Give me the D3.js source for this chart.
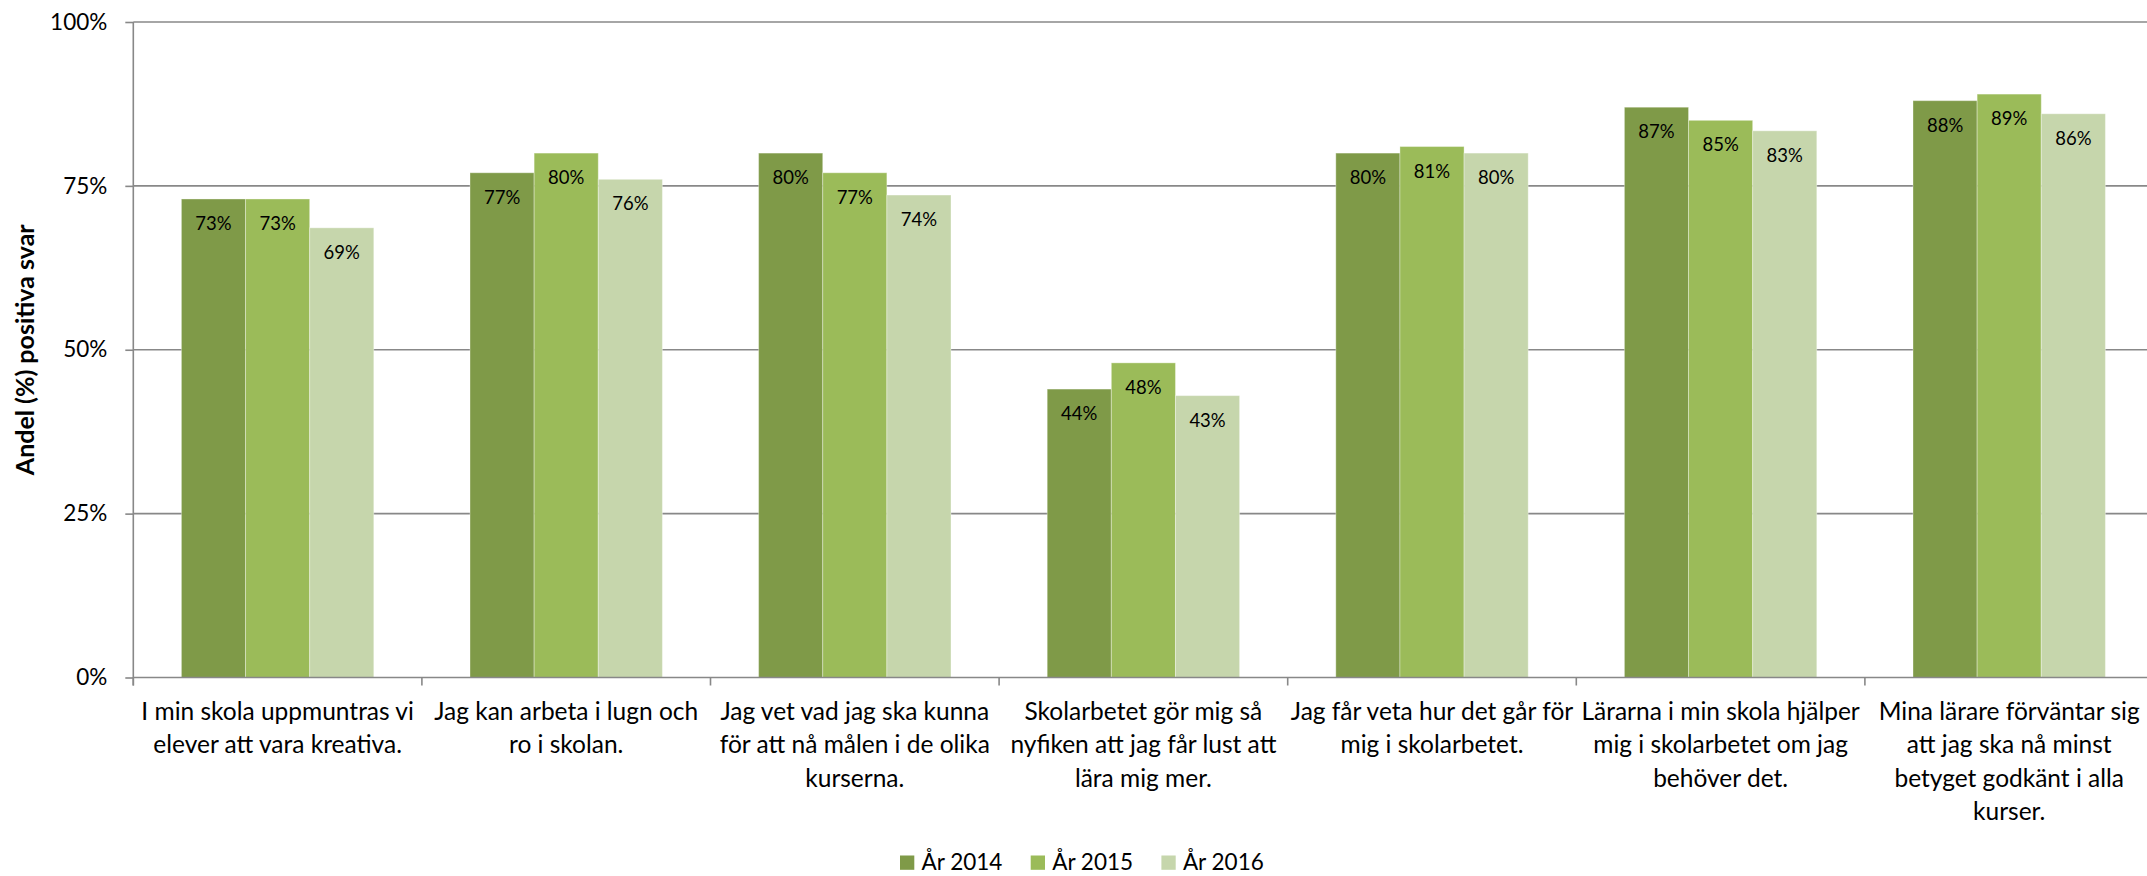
<!DOCTYPE html>
<head>
  <title>andel positiva svar per ar</title>
  <script src="https://cdn.jsdelivr.net/npm/d3@7/dist/d3.min.js"></script>
  <style>
    body { margin: 0; background: #fff; }
    text { font-family: Lato, "Open Sans", sans-serif; fill: #000; }
  </style>
</head>

<body>
  <script>
    // data
    var categories = [
      "I min skola uppmuntras vi\nelever att vara kreativa.",
      "Jag kan arbeta i lugn och\nro i skolan.",
      "Jag vet vad jag ska kunna\nför att nå målen i de olika\nkurserna.",
      "Skolarbetet gör mig så\nnyfiken att jag får lust att\nlära mig mer.",
      "Jag får veta hur det går för\nmig i skolarbetet.",
      "Lärarna i min skola hjälper\nmig i skolarbetet om jag\nbehöver det.",
      "Mina lärare förväntar sig\natt jag ska nå minst\nbetyget godkänt i alla\nkurser."
    ];
    var seriesNames = ["År 2014", "År 2015", "År 2016"];
    var values2014 = [73, 77, 80, 44, 80, 87, 88];
    var values2015 = [73, 80, 77, 48, 81, 85, 89];
    var values2016 = [68.6, 76, 73.6, 43, 80, 83.4, 86];
    var yTicks = [0, 25, 50, 75, 100];
    var colors = ["#7f9a48", "#9bbb59", "#c6d6ac"];

    var allValues = [values2014, values2015, values2016];

    var width = 2147, height = 876;
    var plot = {left: 133.3, right: 2153.5, top: 22, bottom: 677.5};

    var svg = d3.select('body')
                .append('svg')
                    .attr('width', width)
                    .attr('height', height);

    // scales
    var xScale = d3.scaleBand()
        .domain(d3.range(categories.length))
        .range([plot.left, plot.right]);

    var bw = xScale.bandwidth();
    var xInner = d3.scaleBand()
        .domain(d3.range(seriesNames.length))
        .range([bw / 6, bw * 5 / 6]);

    var yScale = d3.scaleLinear().domain([0, 100]).range([plot.bottom, plot.top]);

    // gridlines
    svg.append('g')
        .selectAll('line')
        .data(yTicks.filter(function(d) { return d > 0; }))
        .enter()
        .append('line')
        .attr('x1', plot.left)
        .attr('x2', plot.right)
        .attr('y1', function(d) { return yScale(d); })
        .attr('y2', function(d) { return yScale(d); })
        .attr('stroke', '#888')
        .attr('stroke-width', 1.6);

    // bars
    var groups = svg.selectAll('g.cat')
        .data(categories)
        .enter()
        .append('g')
        .attr('class', 'cat')
        .attr('transform', function(d, i) { return "translate(" + xScale(i) + ",0)"; });

    groups.selectAll('rect')
        .data(function(d, i) { return allValues.map(function(v, s) { return {s: s, v: v[i]}; }); })
        .enter()
        .append('rect')
        .attr('x', function(d) { return xInner(d.s); })
        .attr('y', function(d) { return yScale(d.v); })
        .attr('width', xInner.bandwidth())
        .attr('height', function(d) { return plot.bottom - yScale(d.v); })
        .attr('fill', function(d) { return colors[d.s]; })
        .attr('stroke', 'rgba(255,255,255,0.35)')
        .attr('stroke-width', 1);

    // value labels inside the top of each bar
    groups.selectAll('text.val')
        .data(function(d, i) { return allValues.map(function(v, s) { return {s: s, v: v[i]}; }); })
        .enter()
        .append('text')
        .attr('class', 'val')
        .attr('x', function(d) { return xInner(d.s) + xInner.bandwidth() / 2; })
        .attr('y', function(d) { return yScale(d.v) + 31; })
        .attr('text-anchor', 'middle')
        .style('font-size', '18.5px')
        .text(function(d) { return Math.round(d.v) + "%"; });

    // y axis
    var y_axis = d3.axisLeft(yScale)
        .tickValues(yTicks)
        .tickSize(8)
        .tickPadding(18)
        .tickFormat(function(d) { return d + "%"; });

    var yg = svg.append('g')
        .attr('transform', "translate(" + plot.left + ",0)")
        .call(y_axis);
    yg.select('.domain').remove();
    yg.selectAll('line').attr('stroke', '#888').attr('stroke-width', 1.6);
    yg.selectAll('text').style('font-size', '22.5px').attr('fill', '#000');

    svg.append('line')
        .attr('x1', plot.left).attr('x2', plot.left)
        .attr('y1', plot.top).attr('y2', plot.bottom + 8)
        .attr('stroke', '#888')
        .attr('stroke-width', 1.6);

    // x axis line and category boundary ticks
    svg.append('line')
        .attr('x1', plot.left).attr('x2', plot.right)
        .attr('y1', plot.bottom).attr('y2', plot.bottom)
        .attr('stroke', '#888')
        .attr('stroke-width', 1.6);

    svg.append('g')
        .selectAll('line')
        .data(d3.range(categories.length))
        .enter()
        .append('line')
        .attr('x1', function(i) { return xScale(i); })
        .attr('x2', function(i) { return xScale(i); })
        .attr('y1', plot.bottom)
        .attr('y2', plot.bottom + 8)
        .attr('stroke', '#888')
        .attr('stroke-width', 1.6);

    // category labels, wrapped as in the picture
    var catText = svg.append('g')
        .selectAll('text')
        .data(categories)
        .enter()
        .append('text')
        .attr('text-anchor', 'middle')
        .style('font-size', '24.5px')
        .attr('transform', function(d, i) { return "translate(" + (xScale(i) + bw / 2) + ",720)"; });

    catText.selectAll('tspan')
        .data(function(d) { return d.split("\n"); })
        .enter()
        .append('tspan')
        .attr('x', 0)
        .attr('y', function(d, j) { return j * 33.3; })
        .text(function(d) { return d; });

    // y axis title
    svg.append('text')
        .attr('transform', "translate(34," + ((plot.top + plot.bottom) / 2) + ") rotate(-90)")
        .attr('text-anchor', 'middle')
        .style('font-size', '25px')
        .style('font-weight', 'bold')
        .text("Andel (%) positiva svar");

    // legend
    var legend = svg.append('g')
        .selectAll('g')
        .data(seriesNames)
        .enter()
        .append('g')
        .attr('transform', function(d, i) { return "translate(" + (900 + i * 130.7) + ",855.5)"; });

    legend.append('rect')
        .attr('width', 14.3)
        .attr('height', 14.3)
        .attr('fill', function(d, i) { return colors[i]; });

    legend.append('text')
        .attr('x', 21.5)
        .attr('y', 14.3)
        .style('font-size', '22.5px')
        .text(function(d) { return d; });
  </script>
</body>
